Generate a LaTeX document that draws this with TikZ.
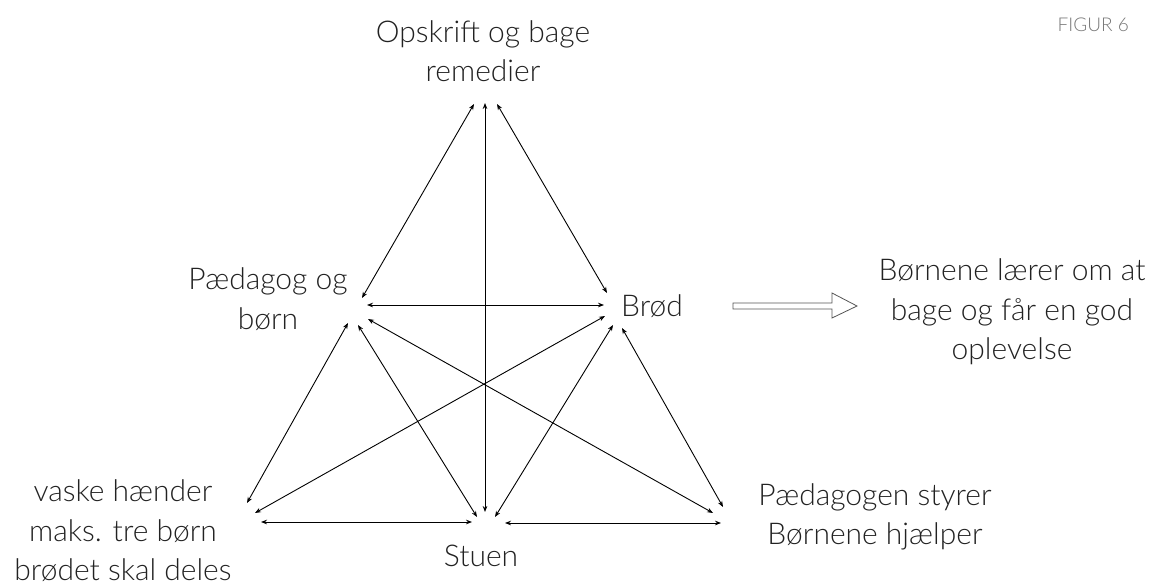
\documentclass[tikz,border=0pt]{standalone}
\usepackage{fontspec}
\setmainfont{Lato Light}
\usetikzlibrary{arrows.meta}
\definecolor{inkgray}{HTML}{222222}
\definecolor{labelgray}{HTML}{777777}
\definecolor{outlinegray}{HTML}{555555}
\begin{document}
\begin{tikzpicture}[x=1pt,y=-1pt,
  lbl/.style={align=center,inner sep=0pt,text=inkgray,
    font=\fontsize{30}{39.5}\selectfont},
  link/.style={line width=0.9pt,
    {Stealth[length=6pt,width=4.6pt]}-{Stealth[length=6pt,width=4.6pt]}},
  fatarrow/.style={draw=outlinegray,line width=0.8pt,fill=white}]
\useasboundingbox (0,0) rectangle (1158,588);

% labels
\node[lbl] (opskrift) at (483,51) {Opskrift og bage\\remedier};
\node[lbl] (paed)     at (268,299) {Pædagog og\\børn};
\node[lbl] (brod)     at (652,306) {Brød};
\node[lbl] (result)   at (1012,312) {Børnene lærer om at\\bage og får en god\\oplevelse};
\node[lbl] (vaske)    at (123,531) {vaske hænder\\maks. tre børn\\brødet skal deles};
\node[lbl] (styrer)   at (875,517) {Pædagogen styrer\\Børnene hjælper};
\node[lbl] (stuen)    at (481,556) {Stuen};
\node[inner sep=0pt,anchor=east,text=labelgray,font=\fontsize{19}{22}\selectfont]
  (figur) at (1129,25) {FIGUR 6};

% connector ends around each label
\coordinate (o-l) at (474,104);
\coordinate (o-c) at (485,103);
\coordinate (o-r) at (497,104);

\coordinate (p-t)  at (362,298);
\coordinate (p-h)  at (367,305);
\coordinate (p-v)  at (348,323);
\coordinate (p-s)  at (358,325);
\coordinate (p-ps) at (368,319);

\coordinate (b-t)  at (607,293);
\coordinate (b-h)  at (604,305);
\coordinate (b-v)  at (605,316);
\coordinate (b-s)  at (613,325);
\coordinate (b-ps) at (622,328);

\coordinate (v-p) at (247,503);
\coordinate (v-b) at (255,513);
\coordinate (v-s) at (261,522);

\coordinate (s-p)  at (477,517);
\coordinate (s-o)  at (485,512);
\coordinate (s-b)  at (495,517);
\coordinate (s-v)  at (472,522);
\coordinate (s-ps) at (505,523);

\coordinate (ps-p) at (713,513);
\coordinate (ps-b) at (723,507);
\coordinate (ps-s) at (721,523);

% connectors
\draw[link] (o-l) -- (p-t);
\draw[link] (o-r) -- (b-t);
\draw[link] (o-c) -- (s-o);
\draw[link] (p-h) -- (b-h);
\draw[link] (p-v) -- (v-p);
\draw[link] (p-s) -- (s-p);
\draw[link] (p-ps) -- (ps-p);
\draw[link] (b-v) -- (v-b);
\draw[link] (b-s) -- (s-b);
\draw[link] (b-ps) -- (ps-b);
\draw[link] (v-s) -- (s-v);
\draw[link] (s-ps) -- (ps-s);

% hollow arrow towards the outcome
\coordinate (fa) at (733,306);
\draw[fatarrow] (fa) ++(0,-3) -- ++(99,0) -- ++(0,-10) -- ++(25,13)
  -- ++(-25,12) -- ++(0,-9) -- ++(-99,0) -- cycle;
\end{tikzpicture}
\end{document}
